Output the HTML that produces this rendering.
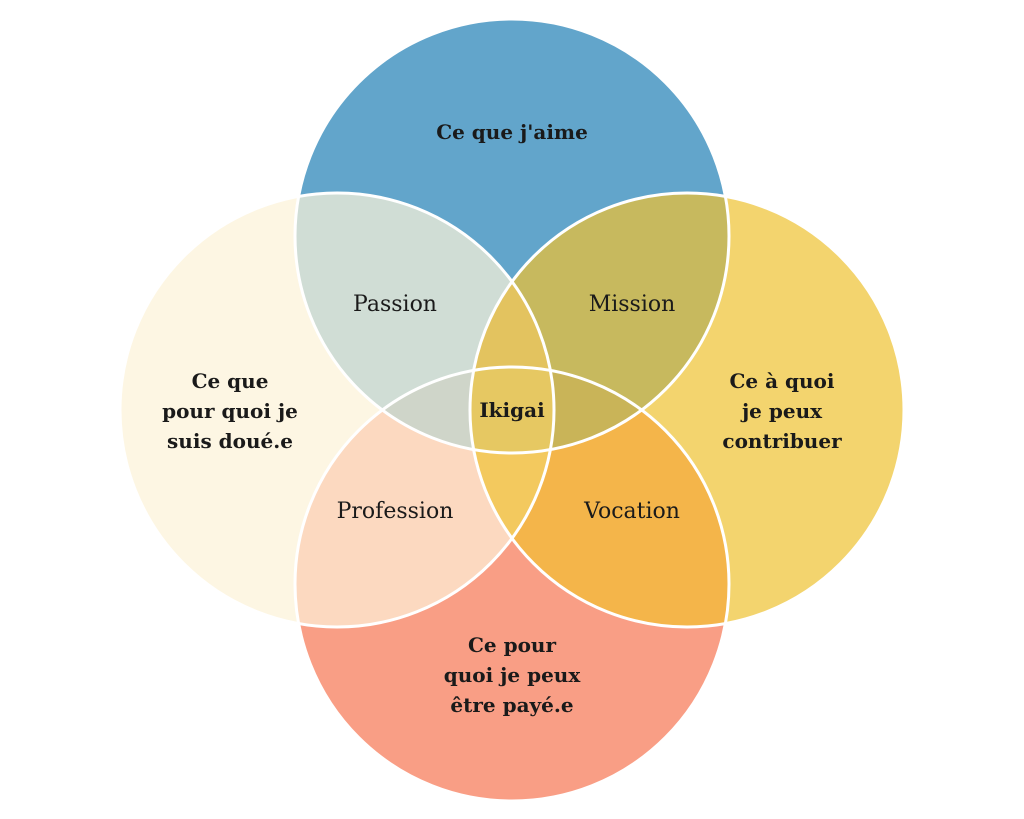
<!DOCTYPE html>
<html><head><meta charset="utf-8"><style>
html,body{margin:0;padding:0;background:#fff;width:1024px;height:819px;overflow:hidden}
text{font-family:"DejaVu Serif","Liberation Serif",serif;fill:#1a1a1a;text-anchor:middle}
.b{font-weight:bold;font-size:20px}
.n{font-size:22px}
</style></head><body>
<svg width="1024" height="819" viewBox="0 0 1024 819" xmlns="http://www.w3.org/2000/svg">
<defs>
<clipPath id="T"><circle cx="512" cy="236" r="217"/></clipPath>
<clipPath id="L"><circle cx="337" cy="410" r="217"/></clipPath>
<clipPath id="R"><circle cx="687" cy="410" r="217"/></clipPath>
<clipPath id="B"><circle cx="512" cy="584" r="217"/></clipPath>
</defs>
<circle cx="512" cy="236" r="217" fill="#62a5cb"/>
<circle cx="337" cy="410" r="217" fill="#fdf6e3"/>
<circle cx="687" cy="410" r="217" fill="#f3d46e"/>
<circle cx="512" cy="584" r="217" fill="#f99e85"/>
<g clip-path="url(#T)"><circle cx="337" cy="410" r="217" fill="#d0ddd5"/></g>
<g clip-path="url(#T)"><circle cx="687" cy="410" r="217" fill="#c7b95e"/></g>
<g clip-path="url(#B)"><circle cx="337" cy="410" r="217" fill="#fcd9c0"/></g>
<g clip-path="url(#B)"><circle cx="687" cy="410" r="217" fill="#f4b54a"/></g>
<g clip-path="url(#L)"><g clip-path="url(#R)"><rect width="1024" height="819" fill="#f3c95e"/><circle cx="512" cy="236" r="217" fill="#e3c35f"/></g></g>
<g clip-path="url(#T)"><g clip-path="url(#B)"><circle cx="337" cy="410" r="217" fill="#cfd5c9"/><circle cx="687" cy="410" r="217" fill="#c9b458"/></g></g>
<g clip-path="url(#T)"><g clip-path="url(#B)"><g clip-path="url(#L)"><circle cx="687" cy="410" r="217" fill="#e6c862"/></g></g></g>
<g fill="none" stroke="#fff" stroke-width="3">
<circle cx="512" cy="236" r="217"/>
<circle cx="337" cy="410" r="217"/>
<circle cx="687" cy="410" r="217"/>
<circle cx="512" cy="584" r="217"/>
</g>
<text class="b" x="512" y="139">Ce que j'aime</text>
<text class="n" x="395" y="311">Passion</text>
<text class="n" x="632" y="311">Mission</text>
<text class="b" x="512" y="417">Ikigai</text>
<text class="n" x="395" y="518">Profession</text>
<text class="n" x="632" y="518">Vocation</text>
<text class="b" x="230" y="388">Ce que</text>
<text class="b" x="230" y="418">pour quoi je</text>
<text class="b" x="230" y="448">suis doué.e</text>
<text class="b" x="782" y="388">Ce  à quoi</text>
<text class="b" x="782" y="418">je peux</text>
<text class="b" x="782" y="448">contribuer</text>
<text class="b" x="512" y="652">Ce pour</text>
<text class="b" x="512" y="682">quoi je peux</text>
<text class="b" x="512" y="712">être payé.e</text>
</svg>
</body></html>
